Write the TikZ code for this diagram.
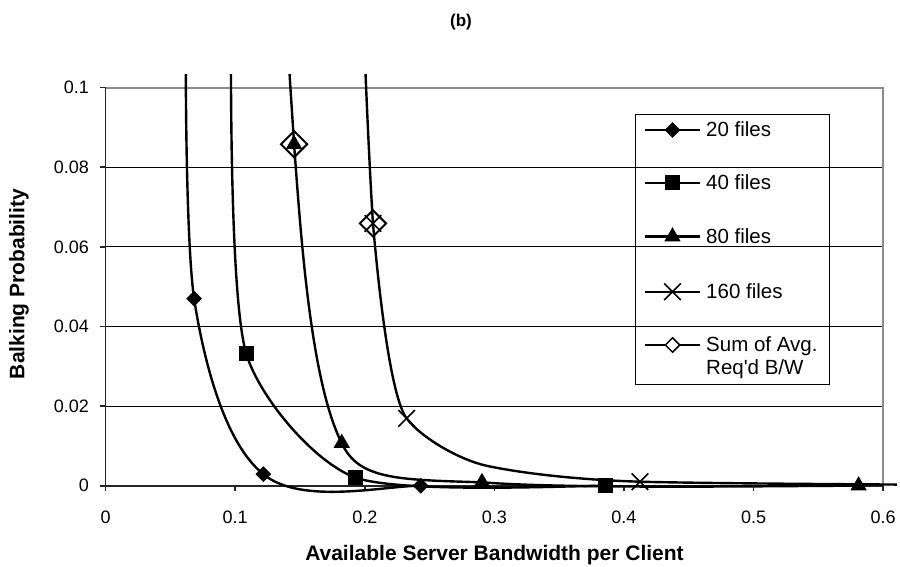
\documentclass[tikz,border=0pt]{standalone}
\usepackage{fontspec}
\setmainfont{Liberation Sans}
\usetikzlibrary{shapes.geometric,shapes.misc}
\begin{document}
\begin{tikzpicture}[x=1pt,y=1pt,
  curve/.style={line width=2.4pt, black, line join=round},
  gridline/.style={line width=1pt, black},
  frameline/.style={line width=2pt, black!45},
  axisline/.style={line width=1.6pt, black!85},
  ticklbl/.style={font=\fontsize{18}{20}\selectfont, inner sep=0pt},
  leglbl/.style={font=\fontsize{20.5}{23}\selectfont, inner sep=0pt, anchor=base west},
  axlbl/.style={font=\bfseries\fontsize{21}{24}\selectfont, inner sep=0pt},
  mdia/.style={diamond, fill=black, inner sep=0pt, minimum width=16pt, minimum height=16pt},
  msq/.style={rectangle, fill=black, inner sep=0pt, minimum size=15pt},
  mtri/.style={regular polygon, regular polygon sides=3, fill=black, inner sep=0pt, minimum size=19pt},
  mcross/.style={cross out, draw=black, line width=1.6pt, inner sep=0pt, minimum size=15pt},
  msum/.style={diamond, draw=black, line width=2pt, inner sep=0pt, minimum width=27pt, minimum height=27pt},
]
\useasboundingbox (0,0) rectangle (900,566);
\fill[white] (0,0) rectangle (900,566);

% title
\node[font=\bfseries\fontsize{17}{20}\selectfont, inner sep=0pt] (title) at (461,544) {(b)};

% axis titles
\node[axlbl, rotate=90] (ylabel) at (19,282) {Balking Probability};
\node[axlbl, anchor=base] (xlabel) at (494.5,6) {Available Server Bandwidth per Client};

\begin{scope}[shift={(105.6,80.3)}, x=1296pt, y=3980pt]
  % grid
  \foreach \v in {0.02,0.04,0.06,0.08} \draw[gridline] (0,\v) -- (0.6,\v);
  \draw[frameline] (0,0.1) -- (0.6,0.1) -- (0.6,0);
  \draw[axisline] (0,0.1) -- (0,0) -- (0.6,0);
  % y ticks
  \foreach \v [count=\i] in {0,0.02,0.04,0.06,0.08,0.1} {
    \draw[axisline] (0,\v) -- ++(-6pt,0);
    \node[ticklbl, anchor=east, xshift=-16.6pt] (yt\i) at (0,\v) {\v};
  }
  % x ticks
  \foreach \v [count=\i] in {0,0.1,0.2,0.3,0.4,0.5,0.6} {
    \draw[axisline] (\v,0) -- ++(0,-5pt);
    \node[ticklbl, anchor=base, yshift=-37.6pt] (xt\i) at (\v,0) {\v};
  }
  % curves
  \begin{scope}
    \clip (-0.01,-0.01) rectangle (0.6105,0.1032);
    % 20 files
    \draw[curve] (0.0619,0.106) .. controls (0.0619,0.085) and (0.0637,0.057) .. (0.0683,0.047)
      .. controls (0.0735,0.0358) and (0.0885,0.0115) .. (0.1217,0.0029)
      .. controls (0.1508,-0.00495) and (0.215,0) .. (0.2431,0);
    % 40 files
    \draw[curve] (0.0967,0.106) .. controls (0.0969,0.075) and (0.0996,0.0428) .. (0.1086,0.0331)
      .. controls (0.1187,0.0222) and (0.1604,0.0059) .. (0.193,0.002)
      .. controls (0.23,-0.002) and (0.36,0) .. (0.3856,0);
    % 80 files
    \draw[curve] (0.1415,0.106) .. controls (0.1425,0.1) and (0.1447,0.09) .. (0.1454,0.0858)
      .. controls (0.1506,0.0633) and (0.1579,0.0264) .. (0.1822,0.0107)
      .. controls (0.1952,0.0016) and (0.2239,0.0015) .. (0.2904,0.00085)
      .. controls (0.3569,-0.0009) and (0.53,0) .. (0.581,0);
    % 160 files
    \draw[curve] (0.2003,0.106) .. controls (0.2015,0.095) and (0.2045,0.075) .. (0.2063,0.0659)
      .. controls (0.2116,0.0459) and (0.2207,0.0219) .. (0.2323,0.0169)
      .. controls (0.2439,0.0119) and (0.274,0.0064) .. (0.294,0.005)
      .. controls (0.3242,0.0029) and (0.37,0.0014) .. (0.4123,0.001)
      .. controls (0.48,0.0004) and (0.75,0) .. (0.826,0);
  \end{scope}
  % markers: 20 files
  \node[mdia] (a1) at (0.0683,0.047) {};
  \node[mdia] (a2) at (0.1217,0.0029) {};
  \node[mdia] (a3) at (0.2431,0) {};
  % 40 files
  \node[msq] (b1) at (0.1086,0.0331) {};
  \node[msq] (b2) at (0.193,0.002) {};
  \node[msq] (b3) at (0.3856,0) {};
  % 80 files
  \node[mtri] (c1) at (0.1454,0.0858) {};
  \node[mtri] (c2) at (0.1822,0.0107) {};
  \node[mtri] (c3) at (0.2904,0.00085) {};
  \node[mtri] (c4) at (0.581,0) {};
  % 160 files
  \node[mcross] (d1) at (0.2063,0.0659) {};
  \node[mcross] (d2) at (0.2323,0.0169) {};
  \node[mcross] (d3) at (0.4123,0.001) {};
  % sum of avg req'd b/w
  \node[msum] (s1) at (0.1454,0.0858) {};
  \node[msum] (s2) at (0.2063,0.0659) {};
\end{scope}

% legend
\draw[line width=1pt, black] (635.7,182) rectangle (829.3,451.7);
\foreach \y [count=\i] in {436,383,329.3,274.3,221} {
  \coordinate (la\i) at (645,\y);
  \coordinate (lb\i) at (700,\y);
  \draw[curve] (la\i) -- (lb\i);
}
\node[mdia] (lm1) at (672.5,436) {};
\node[msq] (lm2) at (672.5,383) {};
\node[mtri] (lm3) at (672.5,329.3) {};
\node[mcross] (lm4) at (672.5,274.3) {};
\node[msum, minimum width=15pt, minimum height=15pt, line width=1.5pt, fill=white] (lm5) at (672.5,221) {};
\node[leglbl] (lt1) at (706,429.3) {20 files};
\node[leglbl] (lt2) at (706,376.3) {40 files};
\node[leglbl] (lt3) at (706,322.6) {80 files};
\node[leglbl] (lt4) at (706,267.6) {160 files};
\node[leglbl] (lt5) at (706,214.3) {Sum of Avg.};
\node[leglbl] (lt6) at (706,191.3) {Req\textquotesingle d B/W};
\end{tikzpicture}
\end{document}
